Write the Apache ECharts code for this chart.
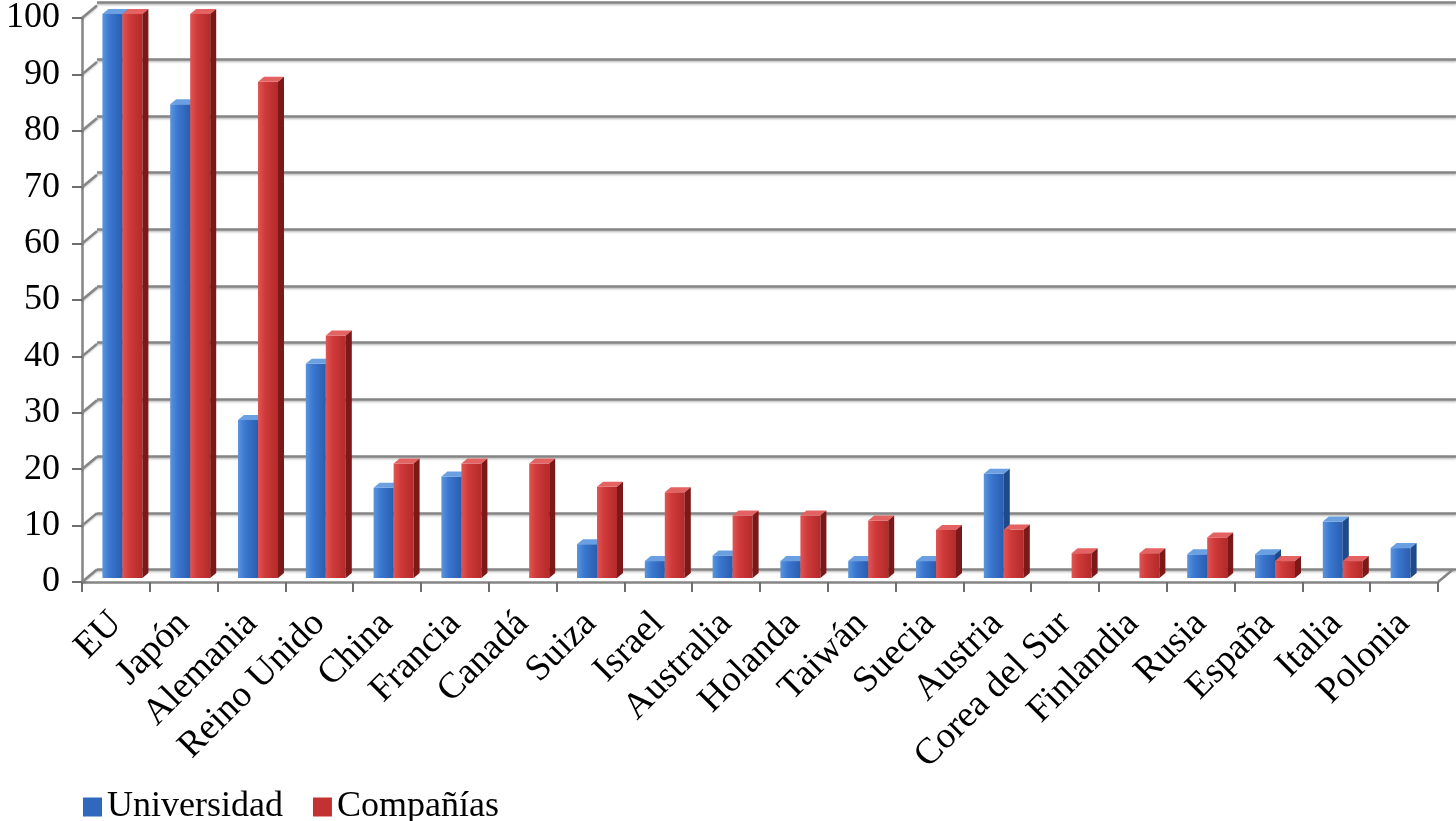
<!DOCTYPE html>
<html>
<head>
<meta charset="utf-8">
<script src="https://cdn.jsdelivr.net/npm/echarts@6/dist/echarts.min.js"></script>
<style>
html,body{margin:0;padding:0;background:#fff;}
#c{width:1456px;height:821px;}
</style>
</head>
<body>
<div id="c"></div>
<script>
const categories = ['EU','Japón','Alemania','Reino Unido','China','Francia','Canadá','Suiza','Israel','Australia','Holanda','Taiwán','Suecia','Austria','Corea del Sur','Finlandia','Rusia','España','Italia','Polonia'];
const universidad = [100,84,28,38,16,18,0,6,3,4,3,3,3,18.5,0,0,4.2,4.2,10,5.3];
const companias   = [100,100,88,43,20.3,20.3,20.3,16.2,15.2,11.1,11.1,10.2,8.5,8.6,4.4,4.4,7.2,3,3,0];
const yTicks = [0,10,20,30,40,50,60,70,80,90,100];
const seriesNames = ['Universidad','Compañías'];

const FONT = '"Times New Roman", "Liberation Serif", serif';
const GRID_COLOR = '#858585';
const WALL_DX = 15, WALL_DY = -12.5;

const palettes = [
  {front: ['#5b95de','#3b78cf','#2a5db0'], top: '#6a9fe2', side: '#1e4a8a', legend: '#2f68bd'},
  {front: ['#e05555','#cf3a3a','#b42a2a'], top: '#e46262', side: '#7d1818', legend: '#c23232'}
];

function makeBarRender(sIdx) {
  const pal = palettes[sIdx];
  return function (params, api) {
    const i = api.value(0), v = api.value(1);
    if (!v) return null;
    const base = api.coord([i, 0]);
    const top = api.coord([i, v]);
    const catW = api.size([1, 0])[0];
    const bw = catW * 0.295;
    const ox = 6.5, oy = -4;
    const dx = 6, dy = -5;
    const x0 = (sIdx === 0 ? base[0] - bw : base[0]) + ox;
    const yb = base[1] + oy;
    const yt = top[1] + oy;
    const grad = new echarts.graphic.LinearGradient(0, 0, 1, 0, [
      {offset: 0, color: pal.front[0]},
      {offset: 0.35, color: pal.front[1]},
      {offset: 1, color: pal.front[2]}
    ]);
    return {
      type: 'group',
      children: [
        {type: 'rect', shape: {x: x0, y: yt, width: bw, height: yb - yt}, style: {fill: grad}},
        {type: 'polygon', shape: {points: [[x0, yt], [x0 + bw, yt], [x0 + bw + dx, yt + dy], [x0 + dx, yt + dy]]}, style: {fill: pal.top}},
        {type: 'polygon', shape: {points: [[x0 + bw, yt], [x0 + bw + dx, yt + dy], [x0 + bw + dx, yb + dy], [x0 + bw, yb]]}, style: {fill: pal.side}}
      ]
    };
  };
}

function wallRender(params, api) {
  const v = api.value(0);
  const cs = params.coordSys;
  const y = api.coord([0, v])[1];
  const children = [{
    type: 'line',
    shape: {x1: cs.x, y1: y, x2: cs.x + WALL_DX, y2: y + WALL_DY},
    style: {stroke: GRID_COLOR, lineWidth: 2.5, shadowColor: 'rgba(0,0,0,0.25)', shadowBlur: 2, shadowOffsetY: 1}
  }];
  if (v === 0) {
    const xr = cs.x + cs.width;
    children.push({
      type: 'line',
      shape: {x1: xr, y1: y, x2: xr + WALL_DX, y2: y + WALL_DY},
      style: {stroke: GRID_COLOR, lineWidth: 2.5}
    });
  }
  return {type: 'group', children: children};
}

const chart = echarts.init(document.getElementById('c'), null, {renderer: 'canvas'});
chart.setOption({
  backgroundColor: '#fff',
  animation: false,
  legend: {
    data: seriesNames,
    left: 78,
    top: 784,
    icon: 'rect',
    itemWidth: 19,
    itemHeight: 19,
    itemGap: 30,
    textStyle: {fontFamily: FONT, fontSize: 36, color: '#000'}
  },
  grid: [
    {left: 82, right: 18, top: 15, bottom: 239, containLabel: false},
    {left: 97, right: 0, top: 2.5, bottom: 251.5, containLabel: false}
  ],
  xAxis: [
    {
      type: 'category', gridIndex: 0, data: categories, boundaryGap: true,
      axisLine: {show: true, lineStyle: {color: GRID_COLOR, width: 2.5}},
      axisTick: {show: true, length: 10, lineStyle: {color: '#6e6e6e', width: 2}},
      axisLabel: {interval: 0, rotate: 45, margin: 36, fontFamily: FONT, fontSize: 37, color: '#000'}
    },
    {
      type: 'category', gridIndex: 1, data: categories, boundaryGap: true,
      axisLine: {show: false}, axisTick: {show: false}, axisLabel: {show: false}
    }
  ],
  yAxis: [
    {
      type: 'value', gridIndex: 0, min: 0, max: 100, interval: 10,
      axisLine: {show: true, lineStyle: {color: GRID_COLOR, width: 2.5}},
      axisTick: {show: true, length: 10, lineStyle: {color: '#6e6e6e', width: 2}},
      axisLabel: {margin: 22, fontFamily: FONT, fontSize: 36, color: '#000'},
      splitLine: {show: false}
    },
    {
      type: 'value', gridIndex: 1, min: 0, max: 100, interval: 10,
      axisLine: {show: false}, axisTick: {show: false}, axisLabel: {show: false},
      splitLine: {show: true, lineStyle: {color: GRID_COLOR, width: 2.5, shadowColor: 'rgba(0,0,0,0.25)', shadowBlur: 2, shadowOffsetY: 1.5}}
    }
  ],
  series: [
    {
      type: 'custom', name: 'wall', xAxisIndex: 0, yAxisIndex: 0, silent: true,
      renderItem: wallRender,
      encode: {y: 0},
      data: yTicks.map(v => [v]),
      z: 1
    },
    {
      type: 'custom', name: seriesNames[0], xAxisIndex: 0, yAxisIndex: 0,
      renderItem: makeBarRender(0),
      itemStyle: {color: palettes[0].legend},
      encode: {x: 0, y: 1},
      data: universidad.map((v, i) => [i, v]),
      z: 3
    },
    {
      type: 'custom', name: seriesNames[1], xAxisIndex: 0, yAxisIndex: 0,
      renderItem: makeBarRender(1),
      itemStyle: {color: palettes[1].legend},
      encode: {x: 0, y: 1},
      data: companias.map((v, i) => [i, v]),
      z: 4
    }
  ]
});
</script>
</body>
</html>
